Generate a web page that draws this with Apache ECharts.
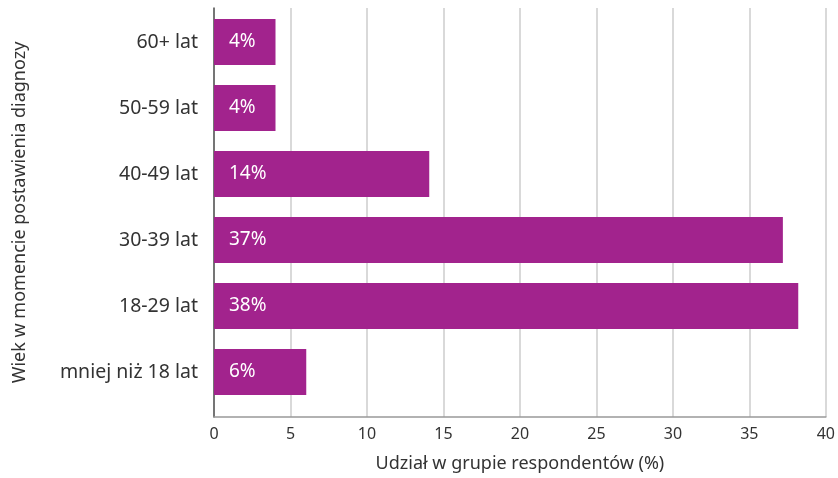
<!DOCTYPE html>
<html>
<head>
<meta charset="utf-8">
<script src="https://cdn.jsdelivr.net/npm/echarts@6/dist/echarts.min.js"></script>
<style>
  html, body { margin: 0; padding: 0; background: #fff; }
  #chart { width: 838px; height: 478px; }
</style>
</head>
<body>
<div id="chart"></div>
<script>
// Age groups at diagnosis (bottom to top on the category axis)
const categories = ['mniej niż 18 lat', '18-29 lat', '30-39 lat', '40-49 lat', '50-59 lat', '60+ lat'];
// Share of respondents, percent
const shares = [6, 38, 37, 14, 4, 4];
// Value axis ticks
const xTicks = [0, 5, 10, 15, 20, 25, 30, 35, 40];

const FONT = '"Noto Sans", "Open Sans", sans-serif';
const xMin = xTicks[0];
const xMax = xTicks[xTicks.length - 1];
const xStep = xTicks[1] - xTicks[0];

const chart = echarts.init(document.getElementById('chart'), null, { renderer: 'canvas' });

chart.setOption({
  animation: false,
  grid: [
    // bars and category labels
    { left: 214, right: 9, top: 9, height: 396, containLabel: false },
    // frame: gridlines, value axis and its title
    { left: 214, right: 9, top: 8, bottom: 60, containLabel: false }
  ],
  xAxis: [
    {
      gridIndex: 0, type: 'value', min: xMin, max: xMax, interval: xStep,
      show: false
    },
    {
      gridIndex: 1, type: 'value', min: xMin, max: xMax, interval: xStep,
      name: 'Udział w grupie respondentów (%)',
      nameLocation: 'middle',
      nameGap: 38,
      nameTextStyle: { fontFamily: FONT, fontSize: 18, color: '#333' },
      axisLine: { show: true, lineStyle: { color: '#999', width: 1.5 } },
      axisTick: { show: false },
      axisLabel: { fontFamily: FONT, fontSize: 16, color: '#333', margin: 9 },
      splitLine: { show: true, lineStyle: { color: '#ccc', width: 1.5 } }
    }
  ],
  yAxis: [
    {
      gridIndex: 0, type: 'category', data: categories,
      axisLine: { show: false },
      axisTick: { show: false },
      axisLabel: { fontFamily: FONT, fontSize: 19.5, color: '#333', margin: 16 },
      splitLine: { show: false }
    },
    {
      gridIndex: 1, type: 'value', min: 0, max: 1,
      name: 'Wiek w momencie postawienia diagnozy',
      nameLocation: 'middle',
      nameGap: 185,
      nameRotate: 90,
      nameTextStyle: { fontFamily: FONT, fontSize: 18, color: '#333' },
      axisLine: { show: true, lineStyle: { color: '#555', width: 1.5 } },
      axisTick: { show: false },
      axisLabel: { show: false },
      splitLine: { show: false }
    }
  ],
  series: [{
    type: 'bar',
    xAxisIndex: 0,
    yAxisIndex: 0,
    data: shares,
    barWidth: 46,
    itemStyle: { color: '#A2238D' },
    label: {
      show: true,
      position: 'insideLeft',
      distance: 15,
      formatter: p => p.value + '%',
      fontFamily: FONT,
      fontSize: 19,
      color: '#fff'
    }
  }]
});
</script>
</body>
</html>
